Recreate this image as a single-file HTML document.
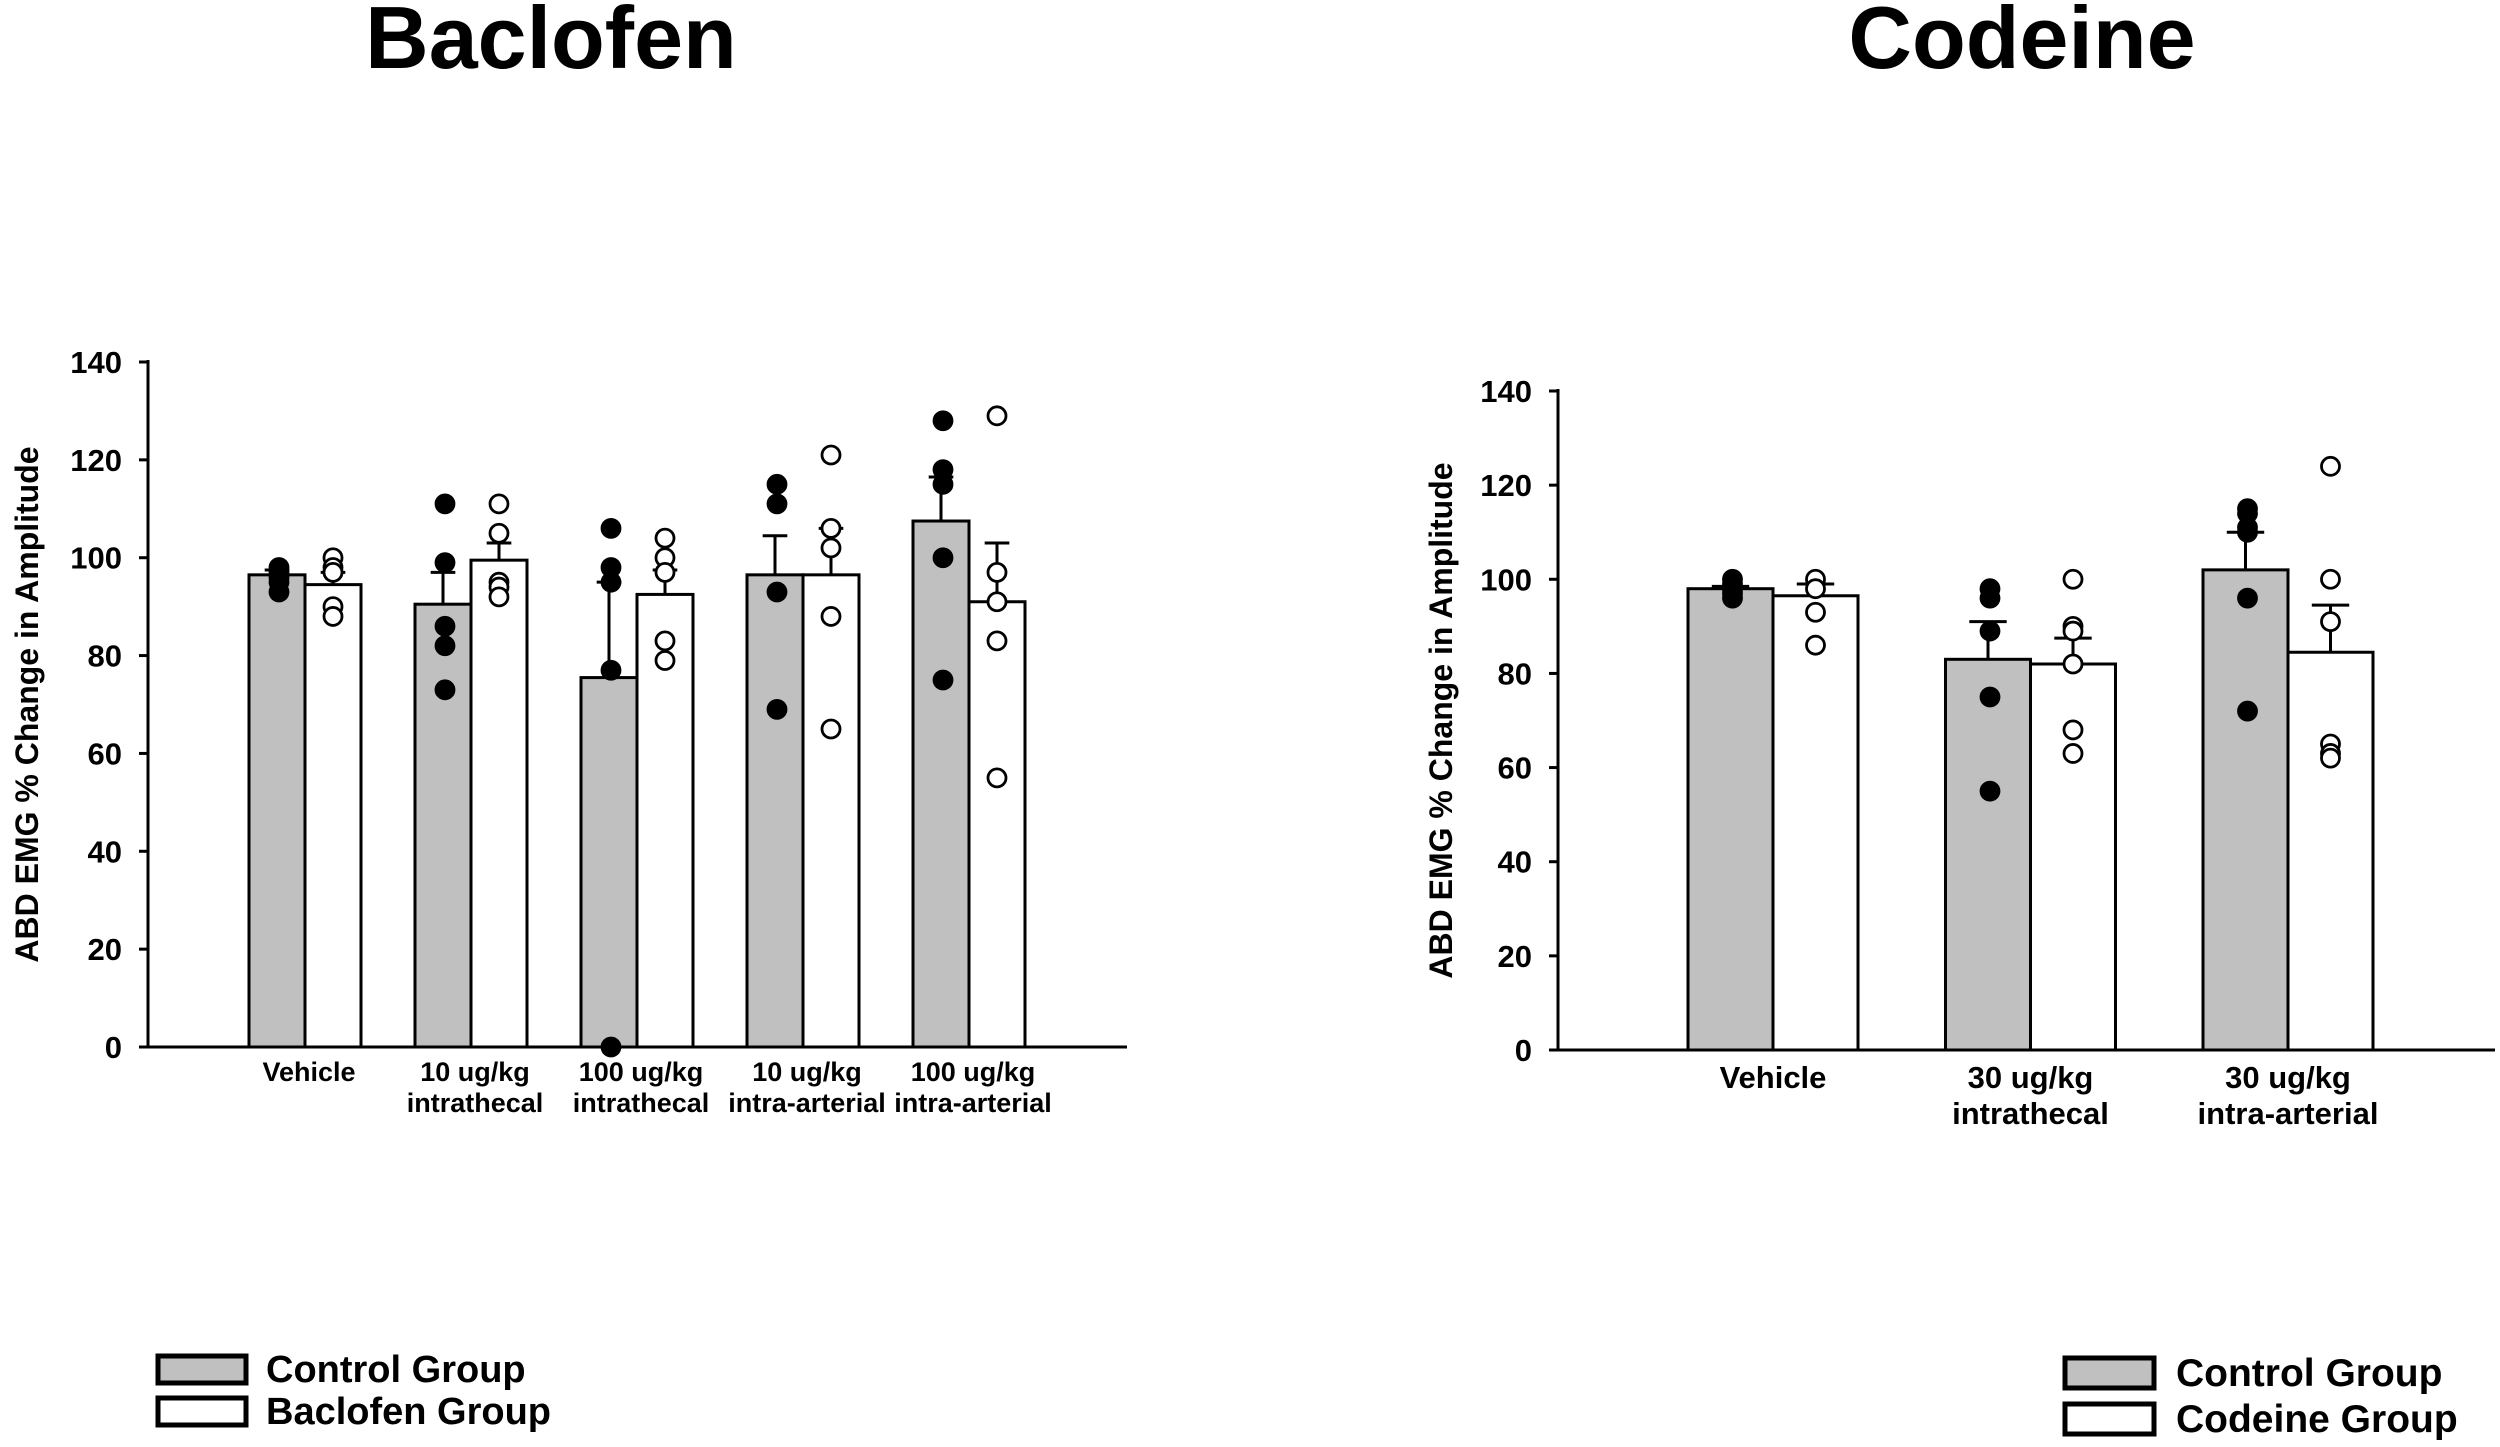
<!DOCTYPE html>
<html><head><meta charset="utf-8"><style>
html,body{margin:0;padding:0;background:#fff;}
svg{display:block;font-family:"Liberation Sans",Arial,sans-serif;}
</style></head><body>
<svg id="fig" width="2500" height="1447" viewBox="0 0 2500 1447">
<text x="551" y="68" font-size="88" font-weight="bold" text-anchor="middle">Baclofen</text>
<text x="2022" y="68" font-size="88" font-weight="bold" text-anchor="middle">Codeine</text>
<g id="chartA"></g>
<g id="chartB"></g>
<g>
<rect x="158" y="1356" width="88" height="27" fill="#c0c0c0" stroke="#000" stroke-width="5"/>
<text x="266" y="1382" font-size="38" font-weight="bold">Control Group</text>
<rect x="158" y="1398" width="88" height="27" fill="#fff" stroke="#000" stroke-width="5"/>
<text x="266" y="1424" font-size="38" font-weight="bold">Baclofen Group</text>
</g>
<g>
<rect x="2065" y="1358" width="89" height="30" fill="#c0c0c0" stroke="#000" stroke-width="5"/>
<text x="2176" y="1386" font-size="39" font-weight="bold">Control Group</text>
<rect x="2065" y="1404" width="89" height="30" fill="#fff" stroke="#000" stroke-width="5"/>
<text x="2176" y="1432" font-size="39" font-weight="bold">Codeine Group</text>
</g>
</svg>
<script>
// Baclofen data
const catsA = [["Vehicle"],["10 ug/kg","intrathecal"],["100 ug/kg","intrathecal"],["10 ug/kg","intra-arterial"],["100 ug/kg","intra-arterial"]];
const ctrlMeanA = [96.5, 90.5, 75.5, 96.5, 107.5];
const ctrlTopA = [97.5, 97, 95, 104.5, 116.5];
const drugMeanA = [94.5, 99.5, 92.5, 96.5, 91];
const drugTopA = [97, 103, 97.5, 106, 103];
const ctrlPtsA = [[98,97,96,93,95],[111,99,86,82,73],[106,98,95,77,0],[115,111,93,69],[128,118,115,100,75]];
const drugPtsA = [[100,98,97,90,88],[111,105,95,94,92],[104,100,97,83,79],[121,106,102,88,65],[129,97,91,83,55]];
// Codeine data
const catsB = [["Vehicle"],["30 ug/kg","intrathecal"],["30 ug/kg","intra-arterial"]];
const ctrlMeanB = [98, 83, 102];
const ctrlTopB = [98.5, 91, 110];
const drugMeanB = [96.5, 82, 84.5];
const drugTopB = [99, 87.5, 94.5];
const ctrlPtsB = [[100,99,98,97,96],[98,96,89,75,55],[115,114,111,110,96,72]];
const drugPtsB = [[100,98,93,86],[100,90,89,82,68,63],[124,100,91,65,63,62]];
const yTicks = [0,20,40,60,80,100,120,140];

const NS = "http://www.w3.org/2000/svg";
function mk(parent, tag, attrs){const e=document.createElementNS(NS,tag);for(const k in attrs)e.setAttribute(k,attrs[k]);parent.appendChild(e);return e;}

function draw(g, cfg, cats, cm, ct, dm, dt, cp, dp){
  const y = v => cfg.y0 - (v/140)*(cfg.y0-cfg.y140);
  const xc = i => cfg.c0 + i*cfg.step;
  let a = mk(g,"line",{x1:cfg.ax,y1:cfg.y140-2,x2:cfg.ax,y2:cfg.y0,stroke:"#000","stroke-width":3});
  
  
  a = mk(g,"line",{x1:cfg.ax,y1:cfg.y0,x2:cfg.xe,y2:cfg.y0,stroke:"#000","stroke-width":3});
  
  
  yTicks.forEach(t=>{
    const tk = mk(g,"line",{x1:cfg.ax-9,y1:y(t),x2:cfg.ax,y2:y(t),stroke:"#000","stroke-width":3});
    
    
    const tl = mk(g,"text",{x:cfg.ax-26,y:y(t)+11,"font-size":cfg.tf,"font-weight":"bold","text-anchor":"end"});
    tl.textContent = t;
    
    
  });
  const yl = mk(g,"text",{x:0,y:0,"font-size":cfg.yf,"font-weight":"bold","text-anchor":"middle",transform:`translate(${cfg.ylx},${(cfg.y0+cfg.y140)/2}) rotate(-90)`});
  yl.textContent = "ABD EMG % Change in Amplitude";
  
  
  cats.forEach((c,i)=>{
    const cx = xc(i), w = cfg.bw;
    [[cm,ct,cp,"#c0c0c0",-1,"control"],[dm,dt,dp,"#fff",1,"drug"]].forEach(([m,tp,pts,fill,side,nm])=>{
      const bx = side<0 ? cx-w : cx;
      const bcx = bx + w/2;
      const topY = y(tp[i]);
      let e = mk(g,"line",{x1:bcx,y1:y(m[i]),x2:bcx,y2:topY,stroke:"#000","stroke-width":3});
      
      
      e = mk(g,"line",{x1:bcx-w*0.22,y1:topY,x2:bcx+w*0.22,y2:topY,stroke:"#000","stroke-width":3});
      
      
      const r = mk(g,"rect",{x:bx,y:y(m[i]),width:w,height:cfg.y0-y(m[i]),fill:fill,stroke:"#000","stroke-width":3});
      
      
      pts[i].forEach(v=>{
        const p = mk(g,"circle",{cx:bcx+(side<0?2:0),cy:y(v),r:cfg.pr,fill:side<0?"#000":"#fff",stroke:"#000","stroke-width":2.8});
        
        
      });
    });
    c.forEach((ln,j)=>{
      const t = mk(g,"text",{x:cx+cfg.lx,y:cfg.y0+cfg.lo+j*cfg.lh,"font-size":cfg.cf,"font-weight":"bold","text-anchor":"middle"});
      t.textContent = ln;
      
      
    });
  });
}
draw(document.getElementById("chartA"),
  {ax:148,xe:1127,y0:1047,y140:362,c0:305,step:166,bw:56,tf:31,yf:32,ylx:38,cf:27,lo:34,lh:31,pr:9,lx:4},
  catsA, ctrlMeanA, ctrlTopA, drugMeanA, drugTopA, ctrlPtsA, drugPtsA);
draw(document.getElementById("chartB"),
  {ax:1558,xe:2495,y0:1050,y140:391,c0:1773,step:257.5,bw:85,tf:31,yf:32,ylx:1452,cf:31,lo:38,lh:36,pr:9,lx:0},
  catsB, ctrlMeanB, ctrlTopB, drugMeanB, drugTopB, ctrlPtsB, drugPtsB);
</script>
</body></html>
